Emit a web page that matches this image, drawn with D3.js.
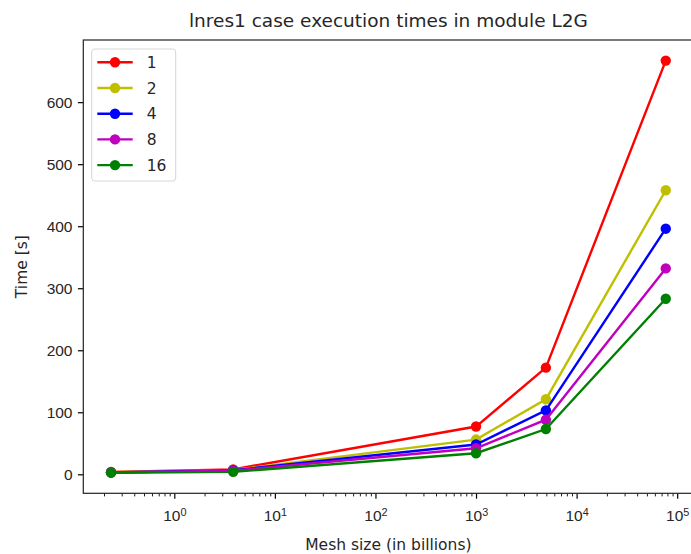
<!DOCTYPE html>
<html>
<head>
<meta charset="utf-8">
<script src="https://cdn.jsdelivr.net/npm/d3@7"></script>
<style>
  body { margin: 0; background: #fff; }
  svg { font-family: "DejaVu Sans", sans-serif; }
</style>
</head>
<body>
<svg id="chart"></svg>
<script>
// mesh sizes (billions) and execution times per process count
const meshSizes = [0.235, 3.85, 1000, 4950, 77000];
const seriesNames = ["1", "2", "4", "8", "16"];
const times1 = [4, 8, 77, 172, 667];
const times2 = [3.5, 7, 56, 121, 458];
const times4 = [3, 6.5, 48, 103, 396];
const times8 = [3, 6, 42, 88, 332];
const times16 = [2.6, 4, 34, 73, 283];
const yTicks = [0, 100, 200, 300, 400, 500, 600];
const xTicks = [1, 10, 100, 1000, 10000, 100000];

const colors = ["#ff0000", "#bfbf00", "#0000ff", "#bf00bf", "#008000"];
const series = [times1, times2, times4, times8, times16].map((v, i) => ({
    name: seriesNames[i],
    color: colors[i],
    values: v.map((t, j) => ({x: meshSizes[j], y: t}))
}));

const W = 691, H = 554;
const plot = {left: 83.3, top: 40, bottom: 493.3, right: 693.5};
const fs = 15.5;

// matplotlib-like 5% margins
const lx = d3.extent(meshSizes).map(Math.log10);
const dx = (lx[1] - lx[0]) * 0.05;
const allY = series.flatMap(s => s.values.map(d => d.y));
const ey = d3.extent(allY);
const dy = (ey[1] - ey[0]) * 0.05;

const x = d3.scaleLog()
    .domain([Math.pow(10, lx[0] - dx), Math.pow(10, lx[1] + dx)])
    .range([plot.left, plot.right]);
const y = d3.scaleLinear()
    .domain([ey[0] - dy, ey[1] + dy])
    .range([plot.bottom, plot.top]);

const svg = d3.select("#chart").attr("width", W).attr("height", H);

// minor log ticks
const minors = [];
for (let e = -1; e <= 5; e++) {
    for (let k = 2; k <= 9; k++) {
        const v = k * Math.pow(10, e);
        if (v > x.domain()[0] && v < x.domain()[1]) minors.push(v);
    }
}

svg.append("g")
    .attr("transform", `translate(0,${plot.bottom})`)
    .call(d3.axisBottom(x).tickValues(minors).tickSize(3.1).tickFormat(""))
    .call(g => g.select(".domain").remove())
    .call(g => g.selectAll("line").attr("stroke", "#000").attr("stroke-width", 0.9));

// major x ticks with 10^n labels
const xAxis = svg.append("g")
    .attr("transform", `translate(0,${plot.bottom})`)
    .call(d3.axisBottom(x).tickValues(xTicks).tickSize(5.4).tickPadding(5.4).tickFormat(""))
    .call(g => g.select(".domain").remove());
xAxis.selectAll("line").attr("stroke", "#000").attr("stroke-width", 1.2);
xAxis.selectAll("text")
    .attr("fill", "#262626")
    .style("font-size", fs + "px")
    .attr("dy", "1.1em")
    .each(function(d) {
        const t = d3.select(this);
        t.append("tspan").text("10");
        t.append("tspan")
            .attr("dy", "-0.45em")
            .style("font-size", (fs * 0.7) + "px")
            .text(Math.round(Math.log10(d)));
    });

// y axis
const yAxis = svg.append("g")
    .attr("transform", `translate(${plot.left},0)`)
    .call(d3.axisLeft(y).tickValues(yTicks).tickSize(5.4).tickPadding(5.4))
    .call(g => g.select(".domain").remove());
yAxis.selectAll("line").attr("stroke", "#000").attr("stroke-width", 1.2);
yAxis.selectAll("text").attr("fill", "#262626").style("font-size", fs + "px");

// spines
svg.append("rect")
    .attr("x", plot.left).attr("y", plot.top)
    .attr("width", plot.right - plot.left).attr("height", plot.bottom - plot.top)
    .attr("fill", "none").attr("stroke", "#222").attr("stroke-width", 1.2);

// lines and markers
const line = d3.line().x(d => x(d.x)).y(d => y(d.y));
const sg = svg.append("g")
    .selectAll("g")
    .data(series)
    .join("g");
sg.append("path")
    .attr("d", d => line(d.values))
    .attr("fill", "none")
    .attr("stroke", d => d.color)
    .attr("stroke-width", 2.4);
sg.selectAll("circle")
    .data(d => d.values.map(v => ({...v, color: d.color})))
    .join("circle")
    .attr("cx", d => x(d.x))
    .attr("cy", d => y(d.y))
    .attr("r", 5.2)
    .attr("fill", d => d.color);

// title and labels
svg.append("text")
    .attr("x", (plot.left + plot.right) / 2).attr("y", 27)
    .attr("text-anchor", "middle")
    .style("font-size", "18.5px")
    .attr("fill", "#262626")
    .text("lnres1 case execution times in module L2G");

svg.append("text")
    .attr("x", (plot.left + plot.right) / 2).attr("y", 550)
    .attr("text-anchor", "middle")
    .style("font-size", fs + "px")
    .attr("fill", "#262626")
    .text("Mesh size (in billions)");

svg.append("text")
    .attr("transform", `translate(27,${(plot.top + plot.bottom) / 2}) rotate(-90)`)
    .attr("text-anchor", "middle")
    .style("font-size", fs + "px")
    .attr("fill", "#262626")
    .text("Time [s]");

// legend
const legend = svg.append("g").attr("transform", "translate(91.7,49)");
legend.append("rect")
    .attr("width", 84).attr("height", 132)
    .attr("rx", 3)
    .attr("fill", "#fff").attr("fill-opacity", 0.8)
    .attr("stroke", "#d6d6d6");
const item = legend.selectAll(".item")
    .data(series)
    .join("g")
    .attr("class", "item")
    .attr("transform", (d, i) => `translate(0,${13.3 + i * 25.7})`);
item.append("line")
    .attr("x1", 5.6).attr("x2", 41)
    .attr("stroke", d => d.color).attr("stroke-width", 2.4);
item.append("circle")
    .attr("cx", 23.3).attr("r", 5.2)
    .attr("fill", d => d.color);
item.append("text")
    .attr("x", 55).attr("dy", "0.36em")
    .style("font-size", fs + "px")
    .attr("fill", "#262626")
    .text(d => d.name);
</script>
</body>
</html>
